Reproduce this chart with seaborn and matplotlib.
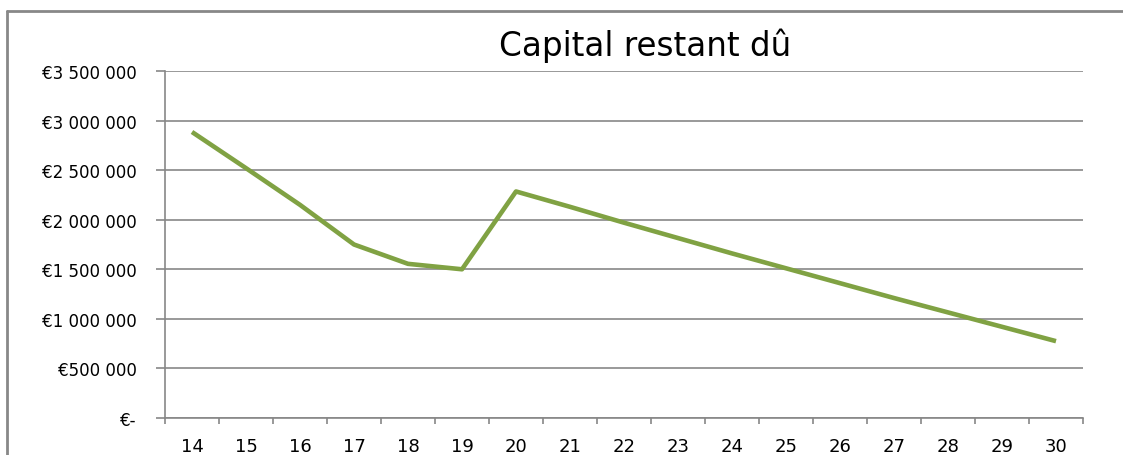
import numpy as np
import matplotlib
matplotlib.use("Agg")
import matplotlib.pyplot as plt
from matplotlib.lines import Line2D
from matplotlib.ticker import FuncFormatter, FixedLocator
import seaborn as sns

# values
years = [14, 15, 16, 17, 18, 19, 20, 21, 22, 23, 24, 25, 26, 27, 28, 29, 30]
capital = [2885000, 2520000, 2150000, 1750000, 1555000, 1500000, 2285000,
           2130000, 1970000, 1815000, 1660000, 1510000, 1360000, 1210000,
           1065000, 920000, 775000]
title = "Capital restant dû"

sns.set_style("white")
plt.rcParams['font.family'] = ['DejaVu Sans']

fig = plt.figure(figsize=(11.23, 4.56), dpi=100)
ax = fig.add_axes([165 / 1123, 1 - 419 / 456, (1083 - 165) / 1123, (419 - 72) / 456])

sns.lineplot(x=years, y=capital, ax=ax, color='#80a243', lw=3.3, solid_capstyle='butt')

ax.set_xlim(years[0] - 0.5, years[-1] + 0.5)
ax.set_ylim(0, 3500000)
ax.set_yticks(np.arange(0, 3500001, 500000))
ax.set_xticks(years)
ax.xaxis.set_minor_locator(FixedLocator(np.arange(years[0] - 0.5, years[-1] + 1, 1)))


def euro(v, pos):
    if v == 0:
        return "€-"
    return "€" + f"{int(v):,}".replace(",", " ")


ax.yaxis.set_major_formatter(FuncFormatter(euro))
ax.grid(axis='y', color='#878787', lw=1.2)
ax.set_axisbelow(True)

for side in ['top', 'right']:
    ax.spines[side].set_visible(False)
for side in ['left', 'bottom']:
    ax.spines[side].set_color('#878787')
    ax.spines[side].set_linewidth(1.2)

ax.tick_params(axis='y', which='major', left=True, length=6.5, width=1.2,
               color='#878787', pad=14, labelsize=12, labelcolor='black')
ax.tick_params(axis='x', which='major', bottom=True, length=0, pad=14,
               labelsize=13, labelcolor='black')
ax.tick_params(axis='x', which='minor', bottom=True, length=4.5, width=1.2,
               color='#878787')
ax.set_xlabel("")
ax.set_ylabel("")

fig.text(645 / 1123, 1 - 56 / 456, title, ha='center', va='baseline',
         fontsize=23.5, color='black')

# chart frame (left and top edges visible)
fig.add_artist(Line2D([7 / 1123, 7 / 1123], [0, 1 - 12 / 456], transform=fig.transFigure,
                      color='#888888', lw=2))
fig.add_artist(Line2D([7 / 1123, 1], [1 - 12 / 456, 1 - 12 / 456], transform=fig.transFigure,
                      color='#888888', lw=2))

fig.savefig("out.png", dpi=100)
